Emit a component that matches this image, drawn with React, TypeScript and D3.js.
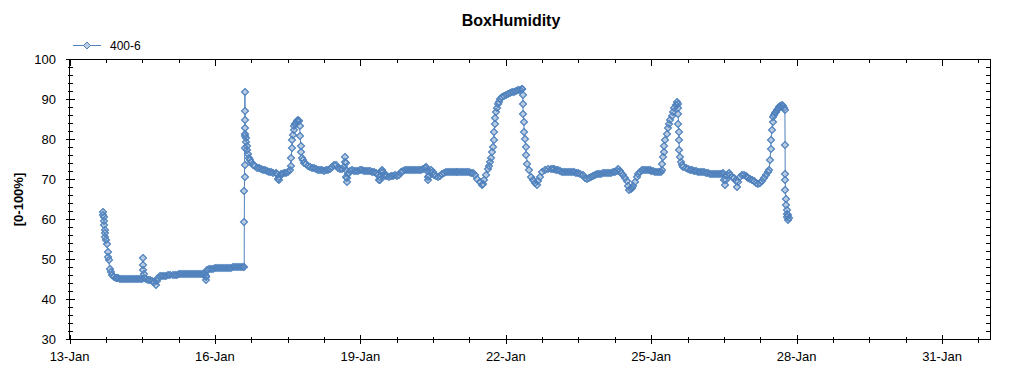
import * as d3 from 'd3';

const width = 1024;
const height = 375;
const plot = { left: 69.5, right: 990.5, top: 59.5, bottom: 339.5 };
const lineColor = '#4f81bd';
const markerFill = '#b9cde2';
const font = '"Liberation Sans", Arial, sans-serif';

const title = 'BoxHumidity';
const seriesName = '400-6';
const yLabel = '[0-100%]';
const yDomain = [30, 100];
const yMajorStep = 10;
const yMinorStep = 2;
const startDay = 13;
const endDay = 32; // 1-Feb
const xMajorDays = 3;
const xMinorHours = 18;

// readings: [hour of day, humidity %]
const jan13 = [[16.7, 61.9], [16.8, 61.2], [16.9, 60.6], [17.0, 59.7], [17.2, 58.6], [17.4, 57.5], [17.6, 56.6], [17.8, 55.6], [18.2, 54.8], [18.6, 54.0], [18.9, 52.0], [19.2, 50.6], [19.4, 49.8], [19.9, 47.7], [20.5, 46.8], [21.1, 46.1], [22, 45.7], [22.8, 45.5], [23.5, 45.3]];
const jan14 = [[0, 45.3], [1, 45.2], [2, 45.2], [3, 45.1], [4, 45.2], [5, 45.1], [6, 45.1], [7, 45.2], [8, 45.1], [9, 45.1], [10, 45.2], [11, 45.1], [12, 45.2], [12.3, 50.5], [12.4, 48.6], [12.5, 47.4], [12.7, 46.4], [13, 45.4], [14, 45.1], [15, 45.0], [16, 44.9], [17, 44.7], [18, 44.4], [18.9, 43.7], [19.3, 44.6], [20, 45.4], [21, 45.8], [22, 45.9], [23, 46.0]];
const jan15 = [[0, 46.0], [1, 46.1], [2, 46.1], [3, 46.2], [4, 46.2], [5, 46.2], [6, 46.3], [7, 46.3], [8, 46.3], [9, 46.3], [10, 46.4], [11, 46.3], [12, 46.4], [13, 46.4], [14, 46.4], [15, 46.4], [16, 46.4], [17, 46.4], [18, 46.4], [19, 46.3], [19.4, 45.6], [19.6, 44.9], [19.8, 45.8], [20.1, 47.4], [21, 47.6], [22, 47.7], [23, 47.7]];
const jan16 = [[0, 47.8], [1, 47.8], [2, 47.8], [3, 47.9], [4, 47.9], [5, 47.9], [6, 48.0], [7, 48.0], [8, 48.0], [9, 48.1], [10, 48.1], [11, 48.1], [12, 48.2], [13, 48.2], [14, 48.2], [14.5, 48.2], [14.55, 59.4], [14.6, 67.1], [14.65, 70.6], [14.7, 73.7], [14.75, 78.0], [14.8, 81.0], [14.85, 91.9], [14.9, 87.1], [14.95, 84.8], [15.0, 82.8], [15.1, 81.5], [15.2, 80.5], [15.4, 79.5], [15.7, 78.5], [16, 77.5], [16.5, 76.5], [17, 75.5], [17.5, 74.8], [18, 74.3], [19, 73.7], [20, 73.3], [21, 73.0], [22, 72.8], [23, 72.6]];
const jan17 = [[0, 72.5], [1, 72.3], [2, 72.2], [3, 72.0], [4, 71.8], [5, 71.7], [6, 71.6], [6.8, 71.3], [7.2, 70.2], [7.5, 69.9], [7.9, 70.6], [8.5, 71.3], [9, 71.5], [10, 71.6], [11, 71.7], [12, 72.0], [13, 72.3], [13.5, 73.5], [13.8, 75.5], [14.1, 78.0], [14.4, 79.8], [14.7, 81.2], [15, 82.5], [15.4, 83.3], [15.8, 83.8], [16.3, 84.2], [16.8, 84.6], [17.3, 84.9], [17.6, 84.7], [17.9, 83.5], [18.2, 81.0], [18.5, 78.5], [18.8, 76.8], [19.2, 75.5], [19.7, 74.8], [20.3, 74.2], [21, 73.8], [22, 73.4], [23, 73.2]];
const jan18 = [[0, 73.0], [1, 72.8], [2, 72.7], [3, 72.5], [4, 72.4], [5, 72.3], [6, 72.2], [7, 72.3], [8, 72.4], [9, 72.6], [10, 73.2], [11, 73.7], [12, 73.6], [13, 73.0], [14, 72.6], [15, 72.6], [16, 73.2], [16.3, 74.5], [16.5, 75.6], [16.7, 74.2], [16.9, 72.4], [17.1, 70.6], [17.3, 69.5], [17.6, 70.3], [18, 71.5], [19, 72.2], [20, 72.3], [21, 72.2], [22, 72.2], [23, 72.2]];
const jan19 = [[0, 72.3], [1, 72.3], [2, 72.2], [3, 72.2], [4, 72.1], [5, 72.1], [6, 72.0], [7, 71.9], [8, 71.7], [8.8, 71.2], [9.2, 70.0], [9.5, 69.8], [9.8, 70.6], [10.2, 71.8], [10.6, 72.4], [11, 71.8], [11.5, 71.0], [12, 70.9], [13, 70.8], [14, 70.7], [15, 70.8], [16, 70.9], [17, 71.0], [18, 70.9], [19, 71.2], [20, 71.8], [21, 72.2], [22, 72.4], [23, 72.4]];
const jan20 = [[0, 72.4], [1, 72.4], [2, 72.5], [3, 72.5], [4, 72.5], [5, 72.4], [6, 72.5], [7, 72.6], [7.8, 72.9], [8.3, 73.2], [8.8, 72.1], [9.3, 70.6], [9.7, 69.8], [10.1, 70.8], [10.6, 71.8], [11, 72.3], [11.8, 71.8], [12.5, 71.2], [13.5, 70.9], [14.5, 70.6], [15.5, 70.8], [16.5, 71.3], [17.5, 71.7], [18.5, 71.9], [19.5, 71.9], [20.5, 71.9], [21.5, 71.9], [22.5, 71.9], [23.5, 71.9]];
const jan21 = [[0, 71.9], [1, 71.9], [2, 71.9], [3, 71.9], [4, 71.9], [5, 71.8], [6, 71.8], [7, 71.7], [8, 71.6], [9, 71.0], [10, 70.2], [11, 69.4], [12, 68.6], [12.6, 69.0], [13.3, 70.0], [14, 71.1], [15, 72.6], [15.6, 73.5], [16.3, 74.5], [16.8, 75.5], [17.3, 76.8], [17.7, 78.2], [18.0, 80.0], [18.3, 82.0], [18.6, 84.0], [18.9, 85.5], [19.3, 86.8], [19.7, 87.8], [20.2, 88.8], [20.7, 89.5], [21.3, 90.1], [22, 90.6], [23, 91.0]];
const jan22 = [[0, 91.2], [1, 91.4], [2, 91.6], [3, 91.8], [4, 92.0], [5, 92.1], [6, 92.3], [7, 92.4], [7.8, 92.6], [8.2, 92.5], [8.4, 91.1], [8.5, 89.0], [8.6, 86.5], [8.9, 84.4], [9.1, 81.9], [9.4, 80.2], [9.9, 78.2], [10.2, 76.1], [10.7, 74.0], [11.5, 72.3], [12.4, 70.6], [13.5, 69.8], [14.5, 69.2], [15.4, 68.7], [16.2, 69.6], [17, 70.6], [18, 71.8], [19.5, 72.5], [21, 72.7], [22.2, 72.7], [23.5, 72.6]];
const jan23 = [[0, 72.6], [1, 72.5], [2, 72.3], [3, 72.1], [4, 72.0], [5, 71.9], [6, 71.9], [7, 71.9], [8, 71.8], [9, 71.8], [10, 71.8], [11, 71.7], [12, 71.6], [13, 71.4], [14, 71.0], [15, 70.5], [16, 70.2], [17, 70.3], [18, 70.6], [19, 70.9], [20, 71.2], [21, 71.3], [22, 71.4], [23, 71.5]];
const jan24 = [[0, 71.6], [1, 71.6], [2, 71.7], [3, 71.7], [4, 71.7], [5, 71.8], [6, 71.9], [7, 72.2], [7.8, 72.6], [8.5, 72.2], [9.3, 71.6], [10.2, 71.0], [11, 70.3], [11.9, 69.6], [12.5, 68.4], [13.1, 67.4], [13.8, 67.6], [14.4, 67.8], [15.2, 68.4], [16, 69.3], [16.8, 70.6], [17.6, 71.5], [18.5, 72.0], [19.5, 72.3], [20.5, 72.4], [21.5, 72.5], [22.5, 72.4], [23.5, 72.3]];
const jan25 = [[0, 72.2], [1, 72.1], [2, 72.0], [3, 71.9], [4, 71.9], [4.7, 71.8], [5.2, 72.4], [5.5, 74.0], [5.8, 75.6], [6.1, 77.0], [6.5, 78.5], [7, 80.0], [7.6, 81.5], [8.2, 82.8], [8.8, 84.0], [9.5, 85.0], [10.2, 85.8], [10.9, 86.8], [11.5, 87.8], [12.1, 88.6], [12.7, 89.3], [13.1, 89.0], [13.3, 87.8], [13.4, 86.5], [13.5, 84.0], [13.6, 81.8], [13.7, 79.8], [14.0, 77.5], [14.3, 75.6], [14.8, 74.4], [15.4, 73.6], [16, 73.2], [17, 72.8], [18, 72.6], [19, 72.4], [20, 72.3], [21, 72.2], [22, 72.1], [23, 72.0]];
const jan26 = [[0, 72.0], [1, 71.9], [2, 71.8], [3, 71.7], [4, 71.6], [5, 71.5], [6, 71.5], [7, 71.5], [8, 71.4], [9, 71.4], [10, 71.4], [11, 71.5], [11.7, 71.6], [12.1, 70.0], [12.6, 68.6], [13.0, 69.8], [13.6, 71.0], [14.3, 71.7], [15, 71.2], [16, 70.6], [17, 70.5], [17.8, 69.6], [18.4, 68.2], [19, 69.4], [19.8, 70.6], [20.8, 71.1], [21.8, 71.0], [22.8, 70.8], [23.5, 70.6]];
const jan27 = [[0, 70.4], [1, 70.2], [2, 69.9], [3, 69.6], [4, 69.2], [5, 69.0], [6, 69.2], [7, 69.6], [8, 70.3], [9, 71.1], [10, 71.8], [10.5, 72.5], [10.8, 74.8], [11.2, 77.7], [11.3, 79.8], [11.7, 82.3], [12.2, 84.4], [12.5, 85.7], [13, 86.2], [13.5, 86.6], [14, 86.9], [14.5, 87.3], [15, 87.7], [15.5, 88.0], [16, 88.4], [16.6, 88.7], [17.2, 88.4], [17.8, 87.9], [18.2, 87.5], [18.3, 78.6], [18.35, 71.5], [18.4, 69.8], [18.5, 67.3], [18.6, 65.2], [18.8, 63.5], [19.0, 62.4], [19.2, 61.5], [19.4, 60.6], [19.6, 59.8], [19.8, 61.2], [20.0, 60.4]];

const readingsByDay: [number, number[][]][] = [
  [13, jan13], [14, jan14], [15, jan15], [16, jan16], [17, jan17], [18, jan18], [19, jan19], [20, jan20],
  [21, jan21], [22, jan22], [23, jan23], [24, jan24], [25, jan25], [26, jan26], [27, jan27],
];

const hourMs = 3600 * 1000;
const dayDate = (d: number) => new Date(2014, 0, d);

const points = readingsByDay.flatMap(([day, rows]) =>
  rows.map(([h, v]) => ({ t: new Date(dayDate(day).getTime() + h * hourMs), v }))
);

const diamond = (r: number) => `M0,${-r}L${r},0L0,${r}L${-r},0Z`;

export default function App() {
  const x = d3.scaleTime().domain([dayDate(startDay), dayDate(endDay)]).range([plot.left, plot.right]);
  const y = d3.scaleLinear().domain(yDomain).range([plot.bottom, plot.top]);

  const line = d3.line<{ t: Date; v: number }>().x(d => x(d.t)).y(d => y(d.v));

  const totalHours = (endDay - startDay) * 24;
  const xTicks = d3.range(0, totalHours, xMinorHours).map(h => ({
    t: new Date(dayDate(startDay).getTime() + h * hourMs),
    major: h % (xMajorDays * 24) === 0,
  }));
  const yTicks = d3.range(yDomain[0], yDomain[1] + 0.001, yMinorStep).map(v => ({ v, major: v % yMajorStep === 0 }));
  const fmt = d3.timeFormat('%-d-%b');
  const pos = (p: { t: Date; v: number }) => `translate(${Math.round(x(p.t))},${Math.round(y(p.v))})`;

  return (
    <svg width={width} height={height} style={{ position: 'absolute', left: 0, top: 0, background: '#fff' }} fontFamily={font}>
      <text x={511} y={26} textAnchor="middle" fontSize={16} fontWeight="bold">{title}</text>

      {/* legend */}
      <line x1={73} x2={101} y1={45.5} y2={45.5} stroke={lineColor} />
      <path d={diamond(3.5)} transform="translate(87,45.5)" fill={markerFill} stroke={lineColor} />
      <text x={110} y={49.5} fontSize={12}>{seriesName}</text>

      <text transform={`translate(18,${(plot.top + plot.bottom) / 2}) rotate(-90)`} dy="0.35em" textAnchor="middle" fontSize={13} fontWeight="bold">{yLabel}</text>

      {/* series: line, marker fills, then marker outlines on top */}
      <path d={line(points) || ''} fill="none" stroke={lineColor} strokeWidth={1} />
      <g fill={markerFill}>
        {points.map((p, i) => <path key={i} d={diamond(3.5)} transform={pos(p)} />)}
      </g>
      <g fill="none" stroke={lineColor} strokeWidth={1.2}>
        {points.map((p, i) => <path key={i} d={diamond(3.5)} transform={pos(p)} />)}
      </g>

      {/* frame and ticks */}
      <g stroke="#000" shapeRendering="crispEdges">
        <rect x={plot.left} y={plot.top} width={plot.right - plot.left} height={plot.bottom - plot.top} fill="none" />
        {xTicks.map((d, i) => {
          const px = Math.round(x(d.t)) + 0.5;
          return (
            <g key={i}>
              <line x1={px} x2={px} y1={plot.bottom - (d.major ? 5 : 3)} y2={plot.bottom + (d.major ? 4 : 3)} />
              <line x1={px} x2={px} y1={plot.top} y2={plot.top + (d.major ? 6 : 3)} />
            </g>
          );
        })}
        {yTicks.map((d, i) => {
          const py = Math.round(y(d.v) - 0.5) + 0.5;
          return (
            <g key={i}>
              <line x1={plot.left - (d.major ? 4 : 2)} x2={plot.left + (d.major ? 5 : 3)} y1={py} y2={py} />
              <line x1={plot.right - 5} x2={plot.right} y1={py} y2={py} />
            </g>
          );
        })}
      </g>

      {/* tick labels */}
      <g fontSize={13} fill="#000">
        {xTicks.filter(d => d.major).map((d, i) => (
          <text key={i} x={x(d.t)} y={360.5} textAnchor="middle">{fmt(d.t)}</text>
        ))}
        {yTicks.filter(d => d.major).map((d, i) => (
          <text key={i} x={56} y={y(d.v)} dy="0.36em" textAnchor="end">{d.v}</text>
        ))}
      </g>
    </svg>
  );
}
